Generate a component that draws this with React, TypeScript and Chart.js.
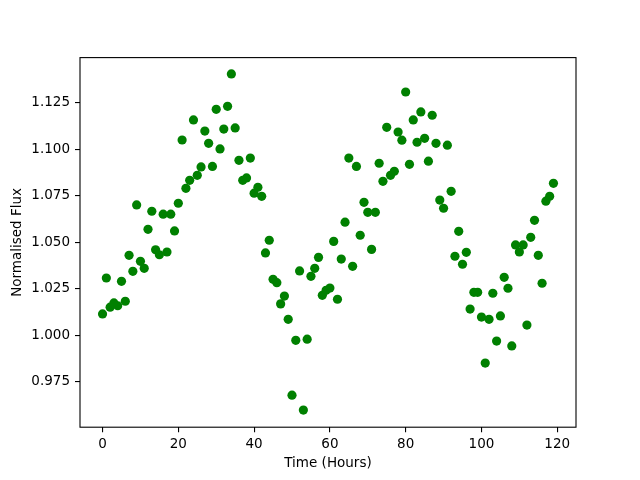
import React, { useEffect, useRef } from "react";
import { Chart, registerables } from "chart.js";

Chart.register(...registerables);

const hours: number[] = Array.from({ length: 120 }, (_, i) => i);

const flux: number[] = [
  1.0116, 1.0309, 1.0152, 1.0175, 1.016, 1.0291, 1.0184, 1.0431, 1.0345, 1.0702,
  1.0399, 1.0361, 1.0571, 1.0668, 1.0461, 1.0434, 1.0652, 1.0449, 1.0652, 1.0562,
  1.0711, 1.1051, 1.0791, 1.0834, 1.1159, 1.0861, 1.0906, 1.1099, 1.1033, 1.0909,
  1.1216, 1.1003, 1.111, 1.1232, 1.1406, 1.1116, 1.0942, 1.0834, 1.0847, 1.0954,
  1.0765, 1.0797, 1.0748, 1.0444, 1.0512, 1.0302, 1.0284, 1.017, 1.0212, 1.0087,
  0.9679, 0.9974, 1.0347, 0.9599, 0.998, 1.0318, 1.0361, 1.042, 1.0216, 1.0243,
  1.0255, 1.0506, 1.0195, 1.0411, 1.0609, 1.0954, 1.0372, 1.0909, 1.0539, 1.0716,
  1.0662, 1.0463, 1.0662, 1.0926, 1.0829, 1.1119, 1.0861, 1.0883, 1.1094, 1.105,
  1.1309, 1.092, 1.1159, 1.1039, 1.1202, 1.106, 1.0937, 1.1184, 1.1033, 1.0728,
  1.0684, 1.1023, 1.0775, 1.0426, 1.056, 1.0383, 1.0447, 1.0142, 1.0232, 1.0232,
  1.0099, 0.9852, 1.0087, 1.0227, 0.997, 1.0105, 1.0313, 1.0254, 0.9944, 1.0487,
  1.0449, 1.0487, 1.0056, 1.0528, 1.0619, 1.0431, 1.0281, 1.0722, 1.0748, 1.0818,
];

const xTicks: number[] = [0, 20, 40, 60, 80, 100, 120];
const yTicks: number[] = [0.975, 1.0, 1.025, 1.05, 1.075, 1.1, 1.125];

const xLabel = "Time (Hours)";
const yLabel = "Normalised Flux";

const FONT = { family: "'DejaVu Sans', sans-serif", size: 13.5 };

const frame = {
  id: "frame",
  afterDatasetsDraw(chart: any) {
    const { ctx, chartArea } = chart;
    ctx.save();
    ctx.strokeStyle = "#000";
    ctx.lineWidth = 1.1;
    ctx.strokeRect(
      chartArea.left,
      chartArea.top,
      chartArea.right - chartArea.left,
      chartArea.bottom - chartArea.top
    );
    ctx.restore();
  },
};

export default function App() {
  const ref = useRef<HTMLCanvasElement | null>(null);

  useEffect(() => {
    document.body.style.margin = "0";
    const canvas = ref.current;
    if (!canvas) return;
    const chart = new Chart(canvas, {
      type: "scatter",
      data: {
        datasets: [
          {
            data: hours.map((h, i) => ({ x: h, y: flux[i] })),
            backgroundColor: "#008000",
            borderColor: "#008000",
            borderWidth: 0,
            pointRadius: 4.6,
            pointHoverRadius: 4.6,
          },
        ],
      },
      options: {
        animation: false,
        responsive: false,
        maintainAspectRatio: false,
        layout: { padding: { top: 57.6, right: 64, left: 0, bottom: 0 } },
        plugins: {
          legend: { display: false },
          tooltip: { enabled: false },
        },
        scales: {
          x: {
            type: "linear",
            min: -5.95,
            max: 124.95,
            afterBuildTicks: (scale: any) => {
              scale.ticks = xTicks.map((v) => ({ value: v }));
            },
            afterFit: (scale: any) => {
              scale.height = 52.8;
            },
            border: { display: false },
            grid: {
              drawOnChartArea: false,
              drawTicks: true,
              tickLength: 5,
              tickColor: "#000",
              lineWidth: 1.1,
            },
            ticks: {
              color: "#000",
              font: FONT,
              padding: 4.5,
              maxRotation: 0,
              autoSkip: false,
              callback: (v: any) => String(v),
            },
            title: {
              display: true,
              text: xLabel,
              color: "#000",
              font: FONT,
              padding: { top: 0, bottom: 8 },
            },
          },
          y: {
            type: "linear",
            min: 0.9507,
            max: 1.1494,
            afterBuildTicks: (scale: any) => {
              scale.ticks = yTicks.map((v) => ({ value: v }));
            },
            afterFit: (scale: any) => {
              scale.width = 80;
            },
            border: { display: false },
            grid: {
              drawOnChartArea: false,
              drawTicks: true,
              tickLength: 5,
              tickColor: "#000",
              lineWidth: 1.1,
            },
            ticks: {
              color: "#000",
              font: FONT,
              padding: 5,
              autoSkip: false,
              callback: (v: any) => Number(v).toFixed(3),
            },
            title: {
              display: true,
              text: yLabel,
              color: "#000",
              font: FONT,
              padding: { top: 9, bottom: 0 },
            },
          },
        },
      },
      plugins: [frame],
    });
    return () => chart.destroy();
  }, []);

  return (
    <div style={{ width: 640, height: 480, background: "#fff" }}>
      <canvas ref={ref} width={640} height={480} style={{ display: "block" }} />
    </div>
  );
}
